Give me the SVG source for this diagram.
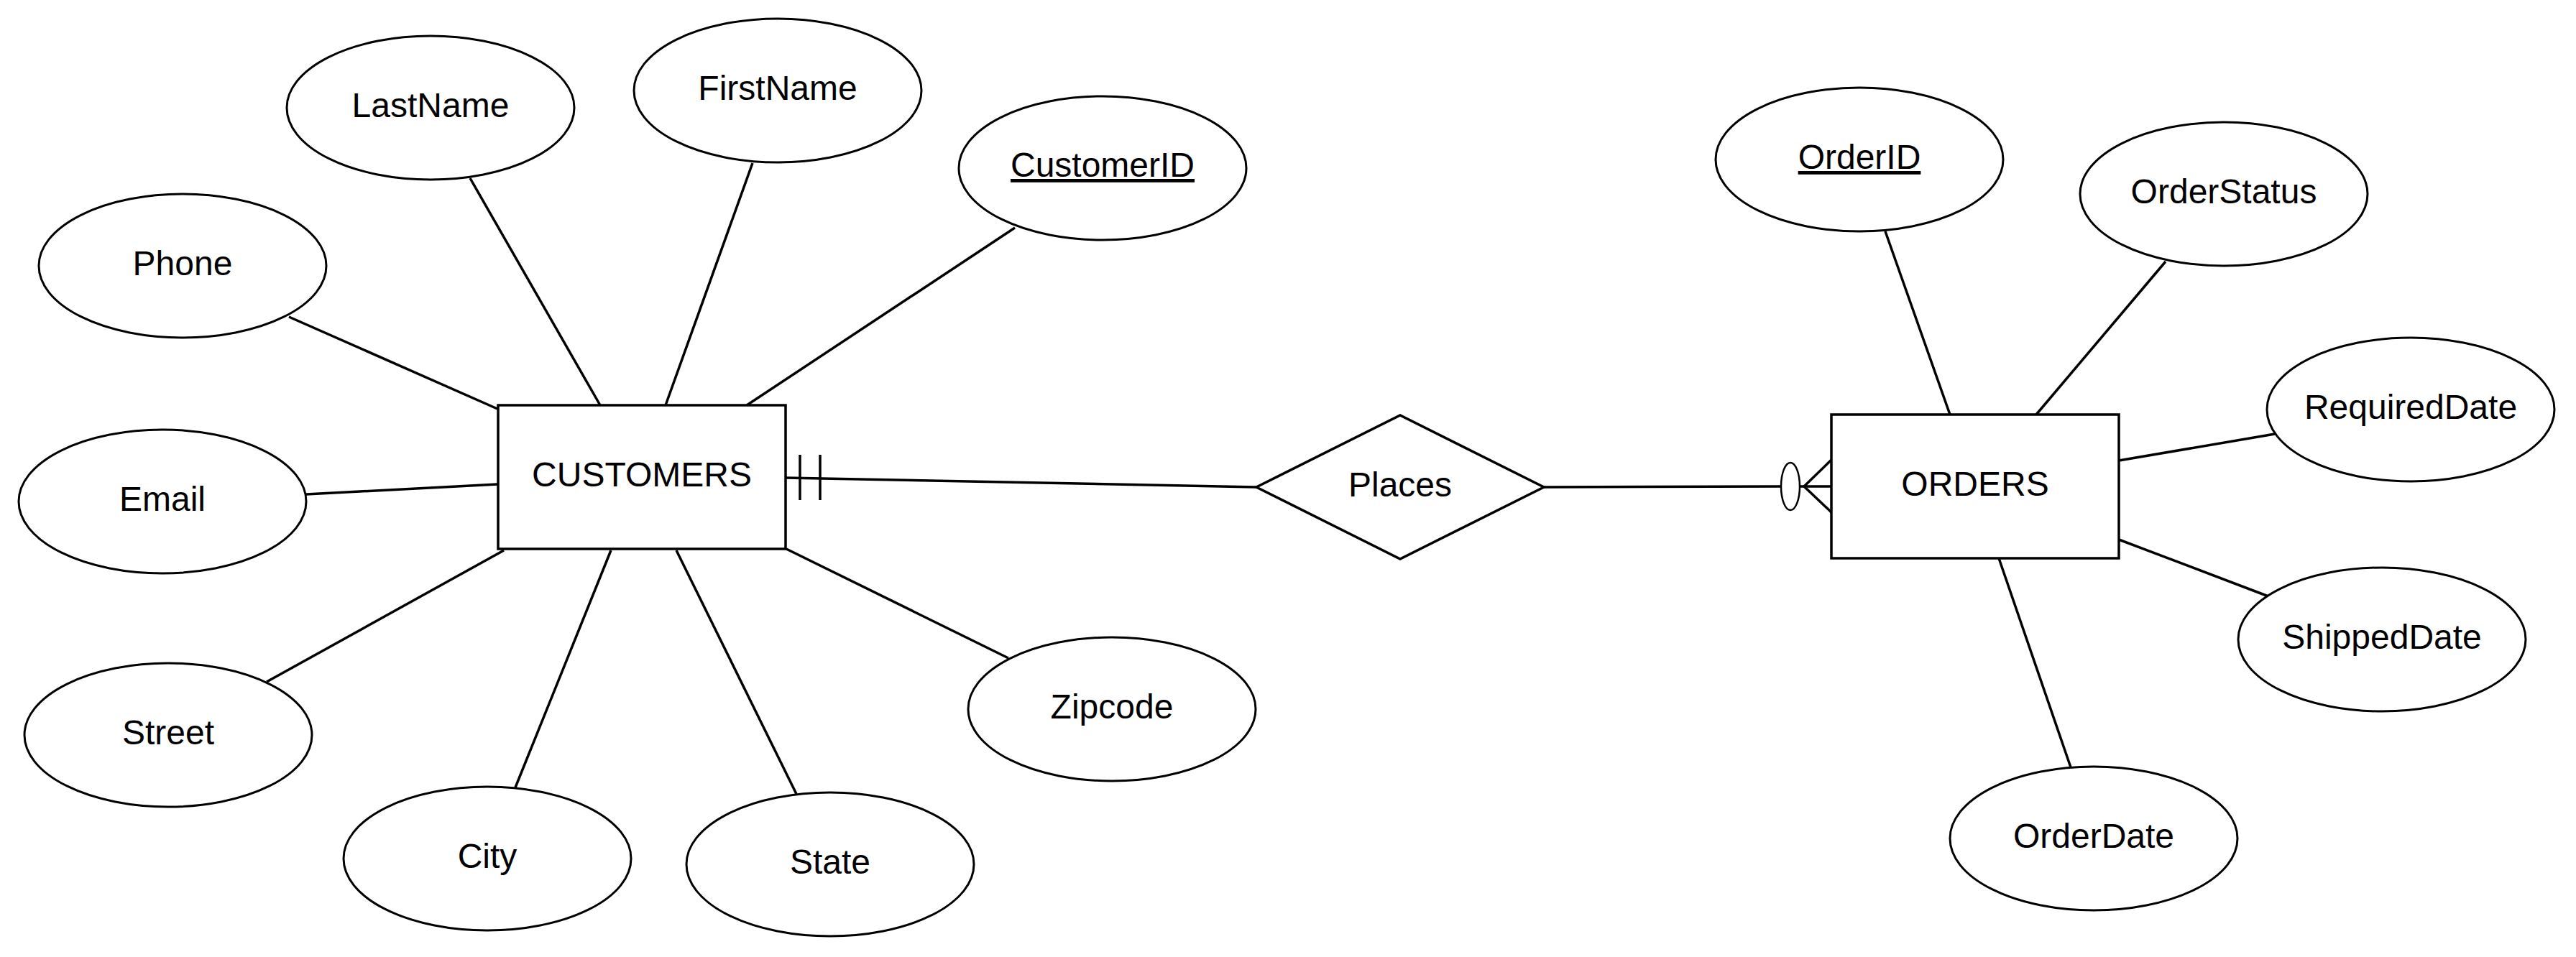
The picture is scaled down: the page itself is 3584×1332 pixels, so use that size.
<svg xmlns="http://www.w3.org/2000/svg" width="3584" height="1332" viewBox="0 0 3584 1332">
<style>
.attr{fill:#fff;stroke:#000;stroke-width:3}
.ent{fill:#fff;stroke:#000;stroke-width:3.5}
.lbl{font-family:"Liberation Sans",Arial,sans-serif;font-size:48px;fill:#000;text-anchor:middle}
.key{text-decoration:underline;text-decoration-thickness:4px}
.ln{stroke:#000;stroke-width:3.5;fill:none}
</style>
<rect width="3584" height="1332" fill="#fff"/>
<g id="connectors">
<line class="ln" x1="402" y1="441" x2="692" y2="569"/>
<line class="ln" x1="654" y1="248" x2="835" y2="564"/>
<line class="ln" x1="1047" y1="227" x2="926" y2="564"/>
<line class="ln" x1="1412" y1="317" x2="1039" y2="564"/>
<line class="ln" x1="426" y1="688" x2="692" y2="674"/>
<line class="ln" x1="371" y1="949" x2="701" y2="766"/>
<line class="ln" x1="717" y1="1096" x2="850" y2="766"/>
<line class="ln" x1="1108" y1="1105" x2="941" y2="766"/>
<line class="ln" x1="1403" y1="916" x2="1094" y2="764"/>
<line class="ln" x1="2623" y1="322" x2="2713" y2="577"/>
<line class="ln" x1="3013" y1="364" x2="2833" y2="577"/>
<line class="ln" x1="3165" y1="604" x2="2948" y2="641"/>
<line class="ln" x1="2948" y1="751" x2="3156" y2="830"/>
<line class="ln" x1="2781" y1="777" x2="2881" y2="1068"/>
<path class="ln" d="M1093 665 L1748 678"/>
<path class="ln" d="M1113 633 V696 M1141 633 V696"/>
<path class="ln" d="M2148 678 L2478 677 M2504 677 L2548 677"/>
<ellipse cx="2491" cy="677" rx="13" ry="33" fill="#fff" stroke="#000" stroke-width="2.5"/>
<path class="ln" d="M2548 640 L2510 677 L2548 713"/>
</g>
<g id="customers"><rect class="ent" x="693" y="564" width="400" height="200"/><text class="lbl" x="893" y="677">CUSTOMERS</text></g>
<g id="orders"><rect class="ent" x="2548" y="577" width="400" height="200"/><text class="lbl" x="2748" y="690">ORDERS</text></g>
<g id="places"><polygon class="ent" points="1748,678 1948,578 2148,678 1948,778"/><text class="lbl" x="1948" y="691">Places</text></g>
<g id="lastname"><ellipse class="attr" cx="599" cy="150" rx="200" ry="100"/><text class="lbl" x="599" y="163">LastName</text></g>
<g id="firstname"><ellipse class="attr" cx="1082" cy="126" rx="200" ry="100"/><text class="lbl" x="1082" y="139">FirstName</text></g>
<g id="customerid"><ellipse class="attr" cx="1534" cy="234" rx="200" ry="100"/><text class="lbl key" x="1534" y="246">CustomerID</text></g>
<g id="phone"><ellipse class="attr" cx="254" cy="370" rx="200" ry="100"/><text class="lbl" x="254" y="383">Phone</text></g>
<g id="email"><ellipse class="attr" cx="226" cy="698" rx="200" ry="100"/><text class="lbl" x="226" y="711">Email</text></g>
<g id="street"><ellipse class="attr" cx="234" cy="1023" rx="200" ry="100"/><text class="lbl" x="234" y="1036">Street</text></g>
<g id="city"><ellipse class="attr" cx="678" cy="1195" rx="200" ry="100"/><text class="lbl" x="678" y="1208">City</text></g>
<g id="state"><ellipse class="attr" cx="1155" cy="1203" rx="200" ry="100"/><text class="lbl" x="1155" y="1216">State</text></g>
<g id="zipcode"><ellipse class="attr" cx="1547" cy="987" rx="200" ry="100"/><text class="lbl" x="1547" y="1000">Zipcode</text></g>
<g id="orderid"><ellipse class="attr" cx="2587" cy="222" rx="200" ry="100"/><text class="lbl key" x="2587" y="235">OrderID</text></g>
<g id="orderstatus"><ellipse class="attr" cx="3094" cy="270" rx="200" ry="100"/><text class="lbl" x="3094" y="283">OrderStatus</text></g>
<g id="requireddate"><ellipse class="attr" cx="3354" cy="570" rx="200" ry="100"/><text class="lbl" x="3354" y="583">RequiredDate</text></g>
<g id="shippeddate"><ellipse class="attr" cx="3314" cy="890" rx="200" ry="100"/><text class="lbl" x="3314" y="903">ShippedDate</text></g>
<g id="orderdate"><ellipse class="attr" cx="2913" cy="1167" rx="200" ry="100"/><text class="lbl" x="2913" y="1180">OrderDate</text></g>
</svg>
